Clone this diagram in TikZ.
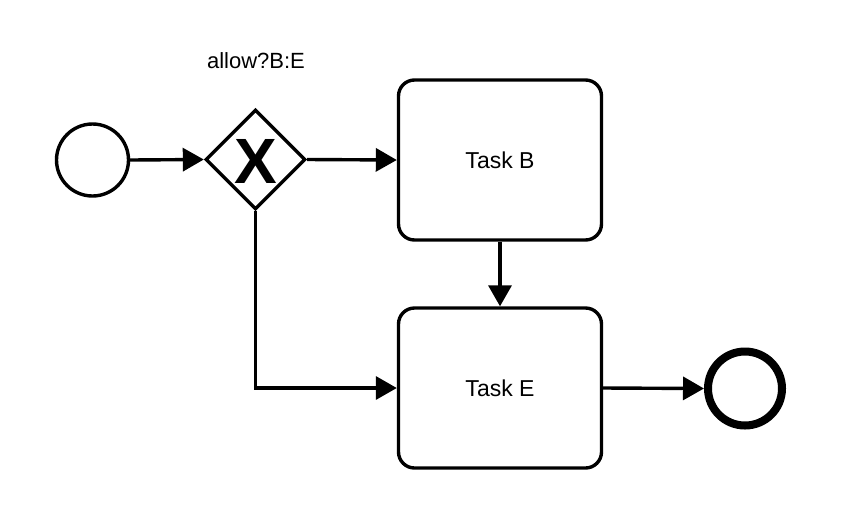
\documentclass[tikz,border=0pt]{standalone}
\usepackage{fontspec}
\setmainfont{Liberation Sans}
\usetikzlibrary{arrows.meta,shapes.geometric}

\begin{document}
\begin{tikzpicture}[x=1pt,y=-1pt,
  flow/.style={line width=3.4pt,-{Triangle[length=21pt,width=23pt]}},
  startevent/.style={circle,draw,line width=3.4pt,minimum size=72pt,inner sep=0pt},
  endevent/.style={circle,draw,line width=8pt,minimum size=74pt,inner sep=0pt},
  xorgate/.style={diamond,draw,line width=3.4pt,minimum size=100pt,aspect=1,inner sep=0pt},
  task/.style={rectangle,draw,line width=3.4pt,rounded corners=16pt,
    minimum width=203pt,minimum height=160pt,font=\fontsize{23}{26}\selectfont},
  lbl/.style={font=\fontsize{22}{25}\selectfont}
]
  \useasboundingbox (0,0) rectangle (858,520);

  % events, gateway and tasks
  \node[startevent] (start) at (92.5,160) {};
  \node[xorgate] (gw) at (255.5,159.5) {};
  \node[font=\bfseries\fontsize{64}{64}\selectfont] (gwmark) at (256,161) {X};
  \node[task] (taskB) at (500,160) {Task B};
  \node[task] (taskE) at (500,388) {Task E};
  \node[endevent] (end) at (745,388.5) {};

  % gateway condition
  \node[lbl] (cond) at (256,61) {allow?B:E};

  % sequence flows
  \draw[flow] (start.east) -- (gw.west);
  \draw[flow] (gw.east) -- (taskB.west);
  \draw[flow] (taskB.south) -- (taskE.north);
  \draw[flow] (gw.south) |- (taskE.west);
  \draw[flow] (taskE.east) -- (end.west);
\end{tikzpicture}
\end{document}
